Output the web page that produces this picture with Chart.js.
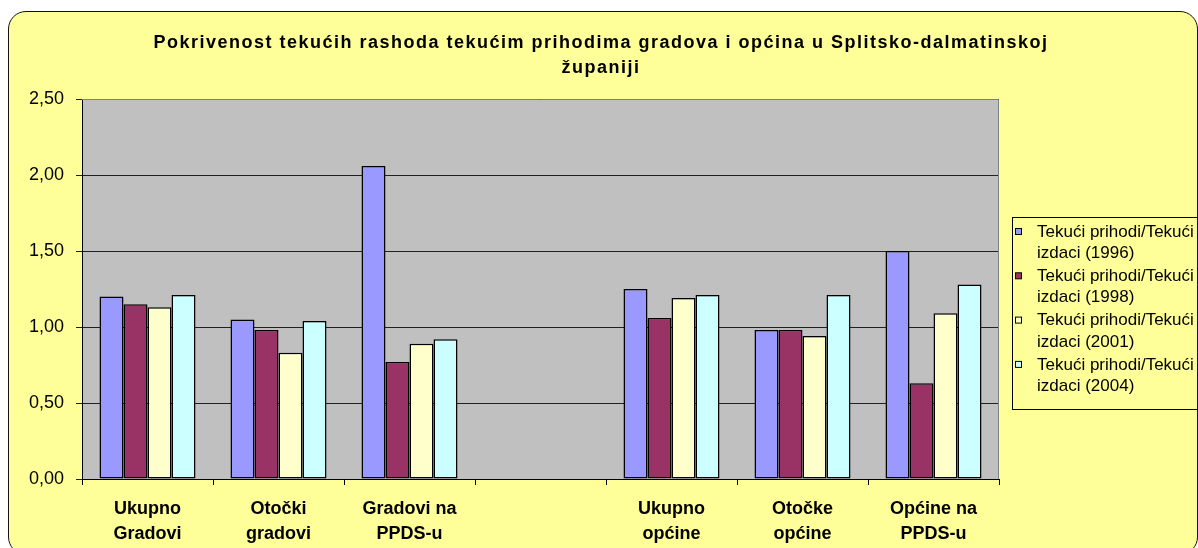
<!DOCTYPE html>
<html>
<head>
<meta charset="utf-8">
<script src="https://cdn.jsdelivr.net/npm/chart.js@4.4.1/dist/chart.umd.min.js"></script>
<style>
    html, body { margin: 0; padding: 0; background: #fff; overflow: hidden; }
    #frame {
        position: absolute; left: 8px; top: 11px;
        width: 1188px; height: 542px;
        background: #FFFF99; border: 1px solid #111; border-radius: 18px;
    }
    #wrap { position: absolute; left: 0; top: 0; width: 1198px; height: 548px; }
</style>
</head>
<body>
<div id="frame"></div>
<div id="wrap"><canvas id="chart" width="1198" height="548"></canvas></div>
<script>
const FONT = '"Liberation Sans", Arial, sans-serif';

const titleLines = ['Pokrivenost tekućih rashoda tekućim prihodima gradova i općina u Splitsko-dalmatinskoj', 'županiji'];

const categories = [
    ['Ukupno', 'Gradovi'],
    ['Otočki', 'gradovi'],
    ['Gradovi na', 'PPDS-u'],
    '',
    ['Ukupno', 'općine'],
    ['Otočke', 'općine'],
    ['Općine na', 'PPDS-u']
];

const seriesNames = [
    'Tekući prihodi/Tekući izdaci (1996)',
    'Tekući prihodi/Tekući izdaci (1998)',
    'Tekući prihodi/Tekući izdaci (2001)',
    'Tekući prihodi/Tekući izdaci (2004)'
];
const seriesColors = ['#9999FF', '#993366', '#FFFFCC', '#CCFFFF'];

const v1996 = [1.20, 1.05, 2.06, null, 1.25, 0.98, 1.50];
const v1998 = [1.15, 0.98, 0.77, null, 1.06, 0.98, 0.63];
const v2001 = [1.13, 0.83, 0.89, null, 1.19, 0.94, 1.09];
const v2004 = [1.21, 1.04, 0.92, null, 1.21, 1.21, 1.28];

const yTicks = [0, 0.5, 1.0, 1.5, 2.0, 2.5];

// Excel-ish decoration: gray plot area, title, boxed legend on the right
const excelLook = {
    id: 'excelLook',
    beforeDraw(chart) {
        const { ctx, chartArea: a } = chart;
        ctx.save();
        ctx.fillStyle = '#C0C0C0';
        ctx.fillRect(a.left, a.top, a.right - a.left, a.bottom - a.top);
        ctx.restore();
    },
    afterDraw(chart) {
        const { ctx, chartArea: a } = chart;
        ctx.save();

        // plot border (top / right)
        ctx.strokeStyle = '#808080';
        ctx.lineWidth = 1;
        ctx.beginPath();
        ctx.moveTo(a.left, a.top + 0.5);
        ctx.lineTo(a.right - 0.5, a.top + 0.5);
        ctx.lineTo(a.right - 0.5, a.bottom);
        ctx.stroke();

        // title (Excel spreads the letters a bit)
        ctx.fillStyle = '#000';
        ctx.font = 'bold 18px ' + FONT;
        ctx.letterSpacing = '1.5px';
        ctx.textAlign = 'center';
        ctx.textBaseline = 'middle';
        titleLines.forEach((t, i) => ctx.fillText(t, 601, 43 + i * 25));
        ctx.letterSpacing = '0px';

        // legend
        const lx = 1012.5, ly = 217.5;
        ctx.strokeStyle = '#000';
        ctx.strokeRect(lx, ly, 220, 192);
        ctx.font = '17px ' + FONT;
        ctx.textAlign = 'left';
        chart.data.datasets.forEach((ds, i) => {
            const y = 232 + i * 44.3;
            ctx.fillStyle = ds.backgroundColor;
            ctx.fillRect(1015.5, y - 3.5, 6, 6);
            ctx.strokeRect(1015.5, y - 3.5, 6, 6);
            const cut = ds.label.indexOf(' izdaci');
            ctx.fillStyle = '#000';
            ctx.fillText(ds.label.slice(0, cut), 1037, y);
            ctx.fillText(ds.label.slice(cut + 1), 1037, y + 21.5);
        });
        ctx.restore();
    }
};

function makeDataset(i, values) {
    return {
        label: seriesNames[i],
        data: values,
        backgroundColor: seriesColors[i],
        borderColor: '#000',
        borderWidth: 1.5,
        borderSkipped: false,
        categoryPercentage: 0.733,
        barPercentage: 1.0
    };
}

new Chart(document.getElementById('chart'), {
    type: 'bar',
    data: {
        labels: categories,
        datasets: [
            makeDataset(0, v1996),
            makeDataset(1, v1998),
            makeDataset(2, v2001),
            makeDataset(3, v2004)
        ]
    },
    options: {
        responsive: false,
        animation: false,
        layout: { padding: { top: 99, right: 199, left: 0, bottom: 0 } },
        plugins: {
            legend: { display: false },
            title: { display: false },
            tooltip: { enabled: false }
        },
        scales: {
            x: {
                afterFit: (s) => { s.height = 69; },
                grid: { display: true, drawOnChartArea: false, tickLength: 6, color: '#000', offset: true },
                border: { display: true, color: '#000' },
                ticks: {
                    color: '#000',
                    padding: 12,
                    maxRotation: 0,
                    autoSkip: false,
                    font: { family: FONT, size: 18, weight: 'bold', lineHeight: '25px' }
                }
            },
            y: {
                min: 0,
                max: 2.5,
                afterFit: (s) => { s.width = 82; },
                afterBuildTicks: (s) => { s.ticks = yTicks.map(v => ({ value: v })); },
                grid: { color: '#202020', tickLength: 6 },
                border: { display: true, color: '#000' },
                ticks: {
                    color: '#000',
                    padding: 12,
                    font: { family: FONT, size: 18 },
                    callback: (v) => Number(v).toFixed(2).replace('.', ',')
                }
            }
        }
    },
    plugins: [excelLook]
});
</script>
</body>
</html>
